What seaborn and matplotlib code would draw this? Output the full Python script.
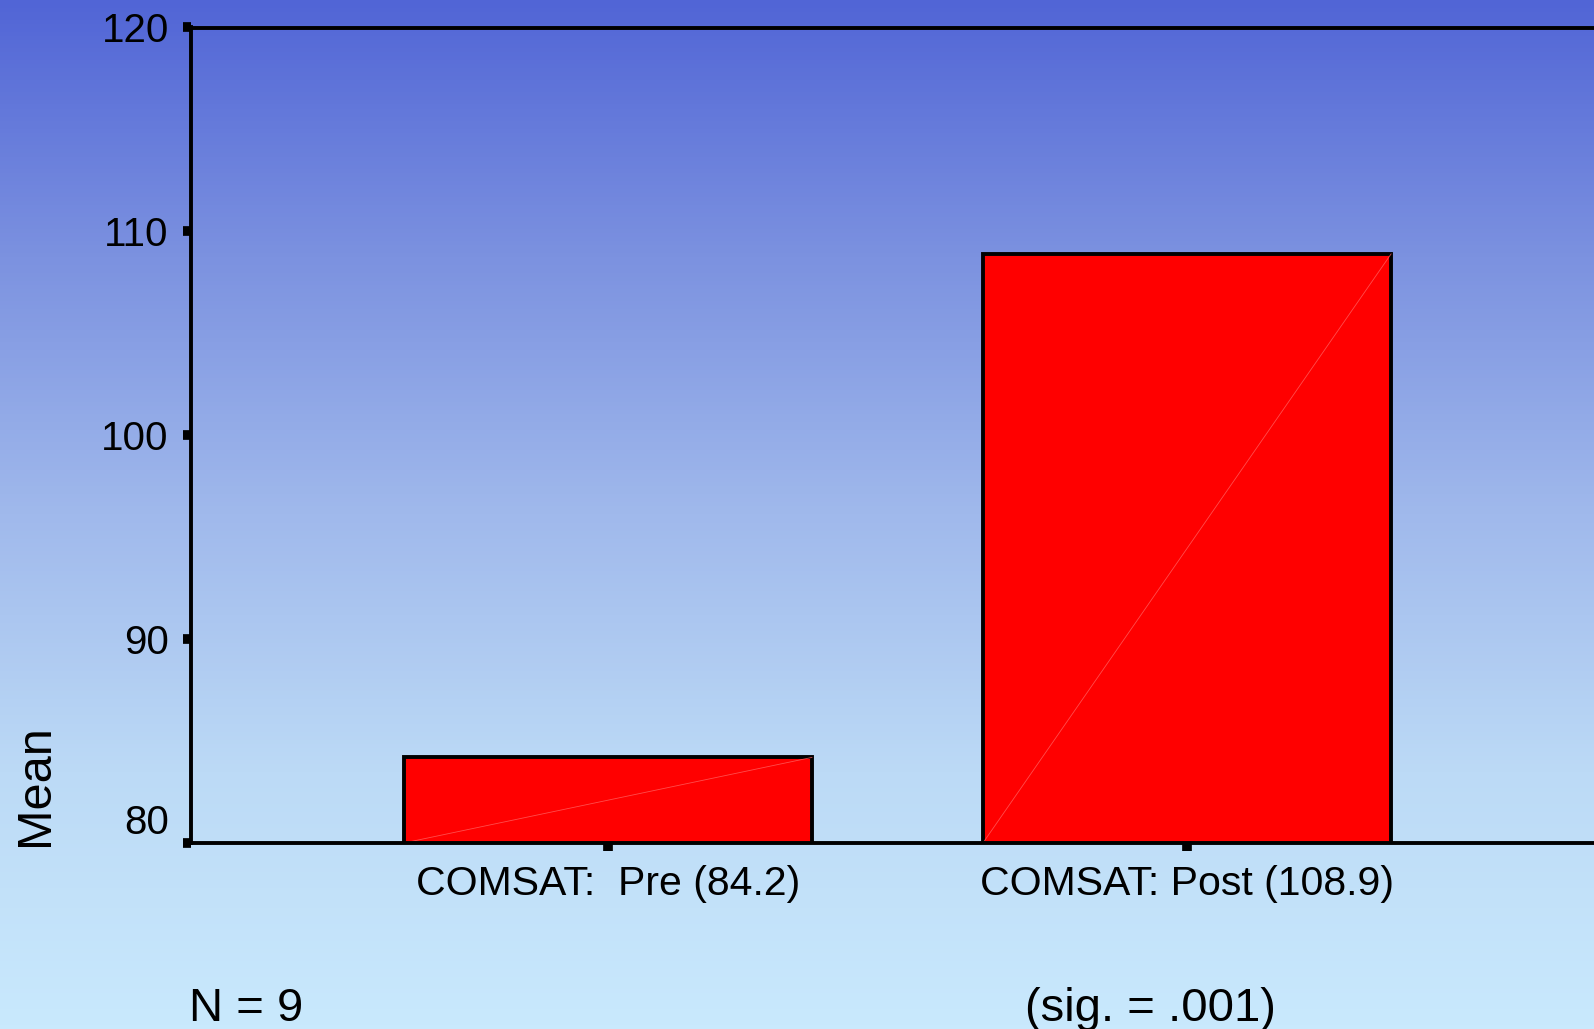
import numpy as np
import matplotlib
matplotlib.use("Agg")
import matplotlib.pyplot as plt
import matplotlib.transforms as mtransforms
from matplotlib.colors import LinearSegmentedColormap
import seaborn as sns

# data
categories = ["COMSAT:  Pre (84.2)", "COMSAT: Post (108.9)"]
means = [84.2, 108.9]
y_ticks = [80, 90, 100, 110, 120]
n_text = "N = 9"
sig_text = "(sig. = .001)"

sns.set_style("white")
plt.rcParams["font.family"] = ["Liberation Sans", "DejaVu Sans"]
plt.rcParams["text.color"] = "black"
plt.rcParams["axes.labelcolor"] = "black"
plt.rcParams["xtick.color"] = "black"
plt.rcParams["ytick.color"] = "black"

fig = plt.figure(figsize=(15.94, 10.29), dpi=100)

# gradient background for the whole slide
bg = fig.add_axes([0, 0, 1, 1], zorder=-1)
grad_cmap = LinearSegmentedColormap.from_list(
    "slide", ["#5165d6", "#7c92e0", "#a0b9ec", "#bcdaf6", "#c9e9fd"])
bg.imshow(np.linspace(0, 1, 256).reshape(-1, 1), aspect="auto",
          cmap=grad_cmap, extent=[0, 1, 0, 1], origin="upper")
bg.axis("off")

# main axes, its right part runs off the figure like the original
ax = fig.add_axes([191 / 1594, 186 / 1029, 1413 / 1594, 815.5 / 1029])
ax.patch.set_alpha(0)

sns.barplot(x=categories, y=means, color="red", saturation=1, width=0.705,
            edgecolor="black", linewidth=2.8, ax=ax)

ax.set_ylim(80, 120)
ax.set_xlim(-0.72, 1.72)
ax.set_yticks(y_ticks)

# thin diagonal line in every bar (SPSS style)
for bar in ax.patches:
    x0 = bar.get_x()
    x1 = x0 + bar.get_width()
    ax.plot([x0, x1], [80, bar.get_height()], color="#ff6060", lw=0.6,
            alpha=0.8, zorder=bar.get_zorder() + 0.1)

for side in ["left", "bottom", "top"]:
    ax.spines[side].set_visible(True)
    ax.spines[side].set_color("black")
    ax.spines[side].set_linewidth(2.8)
ax.spines["right"].set_visible(False)

ax.tick_params(axis="y", direction="out", length=6, width=7, colors="black",
               labelsize=29, pad=10, left=True)
ax.tick_params(axis="x", direction="out", length=6, width=7, colors="black",
               labelsize=29.5, pad=10, bottom=True)

# the 80 label sits a bit above its tick
lab80 = ax.get_yticklabels()[0]
lab80.set_transform(lab80.get_transform() +
                    mtransforms.ScaledTranslation(0, 0.24, fig.dpi_scale_trans))

ax.set_ylabel("Mean", fontsize=35, rotation=90, va="center", color="black")
ax.yaxis.set_label_coords(-0.1097, 0.071)
ax.set_xlabel("")

fig.text(189 / 1594, 8 / 1029, n_text, fontsize=34, va="baseline",
         color="black")
fig.text(1025 / 1594, 8 / 1029, sig_text, fontsize=34, va="baseline",
         color="black")

fig.savefig("out.png", dpi=100)
